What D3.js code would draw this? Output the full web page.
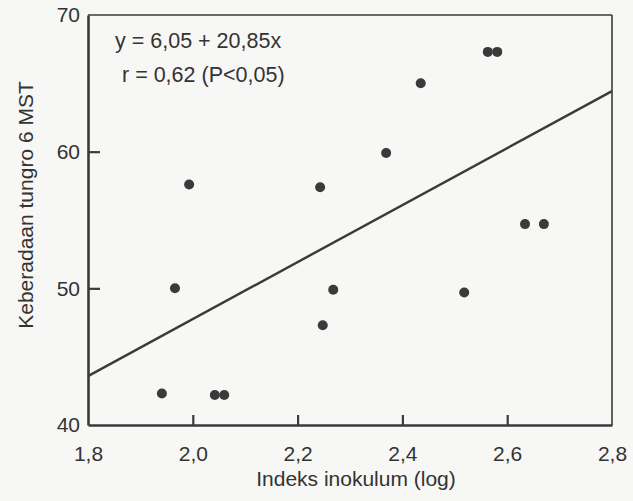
<!DOCTYPE html>
<html>
<head>
<meta charset="utf-8">
<script src="https://cdn.jsdelivr.net/npm/d3@7"></script>
<style>
  body { margin: 0; background: #f7f7f5; }
  svg { display: block; font-family: 'Liberation Sans', Arial, sans-serif; }
</style>
</head>
<body>
<div id="chart"></div>
<script>
// Data
const inokulum = [1.941, 1.966, 1.993, 2.042, 2.060, 2.243, 2.248, 2.268, 2.369, 2.435, 2.518, 2.563, 2.581, 2.634, 2.670];
const keberadaan = [42.3, 50.0, 57.6, 42.2, 42.2, 57.4, 47.3, 49.9, 59.9, 65.0, 49.7, 67.3, 67.3, 54.7, 54.7];
const xTicks = [1.8, 2.0, 2.2, 2.4, 2.6, 2.8];
const yTicks = [40, 50, 60, 70];
const intercept = 6.05;
const slope = 20.85;

const W = 633, H = 501;
const margin = { top: 15, right: 21, bottom: 76, left: 88 };
const width = W - margin.left - margin.right;
const height = H - margin.top - margin.bottom;
const ink = '#3a3a3a';

const svg = d3.select('#chart')
    .append('svg')
    .attr('width', W)
    .attr('height', H);

const g = svg.append('g')
    .attr('transform', `translate(${margin.left},${margin.top})`);

const x = d3.scaleLinear().domain([1.8, 2.8]).range([0, width]);
const y = d3.scaleLinear().domain([40, 70]).range([height, 0]);

const comma = v => d3.format('.1f')(v).replace('.', ',');

// frame (top and right are thinner)
g.append('line').attr('x1', 0).attr('x2', width).attr('y1', 0).attr('y2', 0)
    .attr('stroke', ink).attr('stroke-width', 1.6);
g.append('line').attr('x1', width).attr('x2', width).attr('y1', 0).attr('y2', height)
    .attr('stroke', ink).attr('stroke-width', 1.6);

// axes, ticks pointing inward
const xAxis = g.append('g')
    .attr('transform', `translate(0,${height})`)
    .call(d3.axisBottom(x).tickValues(xTicks).tickFormat(comma).tickSizeInner(-10).tickSizeOuter(0).tickPadding(21));

const yAxis = g.append('g')
    .call(d3.axisLeft(y).tickValues(yTicks).tickFormat(d3.format('d')).tickSizeInner(-12).tickSizeOuter(0).tickPadding(8));

[xAxis, yAxis].forEach(a => {
    a.select('.domain').attr('stroke', ink).attr('stroke-width', 2.6);
    a.selectAll('.tick line').attr('stroke', ink).attr('stroke-width', 2.2);
    a.selectAll('.tick text').attr('fill', '#333').style('font-size', '21px');
});
xAxis.selectAll('.tick').filter(d => d === 1.8 || d === 2.8).select('line').remove();
yAxis.selectAll('.tick').filter(d => d === 40 || d === 70).select('line').remove();

// regression line
g.append('line')
    .attr('x1', x(1.8)).attr('y1', y(intercept + slope * 1.8))
    .attr('x2', x(2.8)).attr('y2', y(intercept + slope * 2.8))
    .attr('stroke', ink).attr('stroke-width', 2.4);

// points
g.selectAll('.dot')
    .data(inokulum.map((v, i) => [v, keberadaan[i]]))
    .enter()
    .append('circle')
    .attr('class', 'dot')
    .attr('cx', d => x(d[0]))
    .attr('cy', d => y(d[1]))
    .attr('r', 5)
    .attr('fill', ink);

// equation text
g.append('text')
    .attr('x', 27).attr('y', 33)
    .attr('fill', '#333').style('font-size', '21.5px')
    .text('y = 6,05 + 20,85x');
g.append('text')
    .attr('x', 34).attr('y', 67)
    .attr('fill', '#333').style('font-size', '21.5px')
    .text('r = 0,62 (P<0,05)');

// axis titles
svg.append('text')
    .attr('x', 356).attr('y', 486)
    .attr('text-anchor', 'middle')
    .attr('fill', '#333').style('font-size', '21px')
    .text('Indeks inokulum (log)');

svg.append('text')
    .attr('transform', 'translate(33,205) rotate(-90)')
    .attr('text-anchor', 'middle')
    .attr('fill', '#333').style('font-size', '21px')
    .text('Keberadaan tungro 6 MST');
</script>
</body>
</html>
